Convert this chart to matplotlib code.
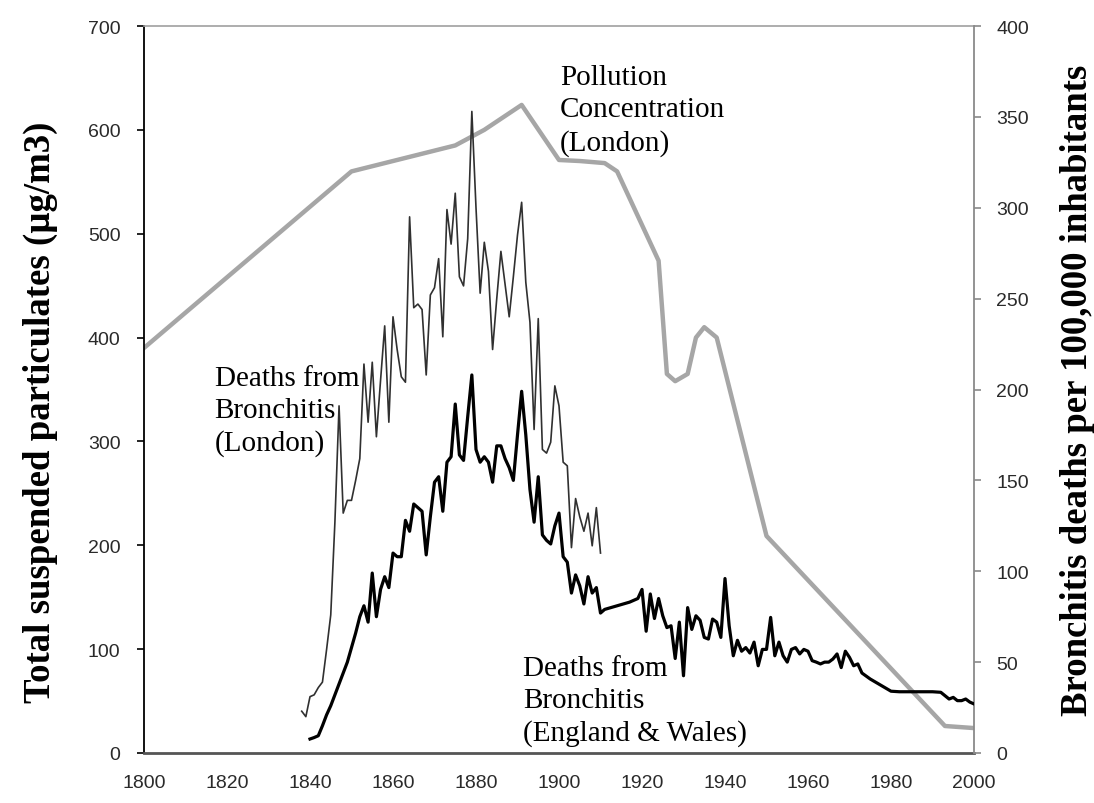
import matplotlib
matplotlib.use("Agg")
import matplotlib.pyplot as plt
from matplotlib.ticker import MultipleLocator

# ---------------- data ----------------
poll_years = [1800, 1850, 1875, 1882, 1891, 1900, 1905, 1911, 1914, 1924, 1926,
              1928, 1931, 1933, 1935, 1938, 1950, 1993, 2000]
poll_values = [390, 560, 585, 600, 624, 571, 570, 568, 560, 474, 365,
               358, 365, 400, 410, 400, 209, 26, 24]

london_years = list(range(1838, 1911))
london_values = [23, 20, 31, 32, 36, 39, 57, 76, 127, 191,
                 132, 139, 139, 150, 162, 214, 182, 215, 174, 205,
                 235, 182, 240, 222, 207, 204, 295, 245, 247, 244,
                 208, 252, 256, 272, 229, 299, 280, 308, 262, 257,
                 283, 353, 300, 253, 281, 265, 222, 250, 276, 258,
                 240, 262, 285, 303, 259, 237, 178, 239, 167, 165,
                 171, 202, 191, 160, 158, 113, 140, 130, 122, 132,
                 114, 135, 110]

ew_years = list(range(1840, 1911)) + [1911, 1914, 1917] + list(range(1919, 1974)) + \
    [1975, 1977, 1980, 1982, 1990, 1992, 1994, 1995, 1996, 1997, 1998, 1999, 2000]
ew_values = [7.7, 8.5, 9.5, 15, 21, 26, 32, 38, 44, 50,
             58, 66, 75, 81, 72, 99, 75, 90, 97, 91,
             110, 108, 108, 128, 122, 137, 135, 133, 109, 130,
             149, 152, 133, 160, 163, 192, 164, 161, 185, 208,
             167, 160, 163, 160, 149, 169, 169, 162, 157, 150,
             175, 199, 175, 145, 127, 152, 120, 117, 115, 125,
             132, 108, 105, 88, 98, 92, 82, 97, 88, 91,
             77,
             79, 81, 83,
             85, 90, 67, 87.5, 74, 85, 75.5, 69, 70, 52,
             72, 42.5, 80, 68, 75.5, 73, 63.6, 62.7, 73.7, 72,
             63.6, 96, 70, 53.5, 62, 56, 58, 55, 61, 48,
             57, 57, 74.6, 53.5, 61, 53.5, 50, 57, 58, 54.5,
             57, 56, 50.8, 50, 49, 50, 50, 51.7, 54.5, 47,
             56, 52.6, 48, 49, 44,
             40.7, 38, 34, 33.7, 33.7, 33.4, 29.7, 30.6, 28.8, 28.8, 29.7, 28, 27]

x_ticks = list(range(1800, 2001, 20))

# ---------------- figure ----------------
tick_font = ['Liberation Sans', 'DejaVu Sans']
serif = ['Liberation Serif', 'DejaVu Serif']

fig = plt.figure(figsize=(10.94, 8.04), dpi=100)
ax = fig.add_axes([144 / 1094, 1 - 754 / 804, (974 - 144) / 1094, (754 - 27) / 804])
ax2 = ax.twinx()

ax.plot(poll_years, poll_values, color='#a6a6a6', lw=3.2, solid_joinstyle='round', zorder=2)
ax2.plot(london_years, london_values, color='#303030', lw=1.2, zorder=3)
ax2.plot(ew_years, ew_values, color='#000000', lw=2.3, zorder=4)

ax.set_xlim(1800, 2000)
ax.set_ylim(0, 700)
ax2.set_ylim(0, 400)
ax.set_xticks(x_ticks)
ax.yaxis.set_major_locator(MultipleLocator(100))
ax2.yaxis.set_major_locator(MultipleLocator(50))

for a in (ax, ax2):
    a.set_facecolor('none')
    for s in a.spines.values():
        s.set_visible(False)

ax.spines['left'].set_visible(True)
ax.spines['left'].set_color('#000000')
ax.spines['left'].set_linewidth(1.3)
ax.spines['bottom'].set_visible(True)
ax.spines['bottom'].set_color('#555555')
ax.spines['bottom'].set_linewidth(2.0)
ax.spines['top'].set_visible(True)
ax.spines['top'].set_color('#a0a0a0')
ax.spines['top'].set_linewidth(1.2)
ax2.spines['right'].set_visible(True)
ax2.spines['right'].set_color('#8a8a8a')
ax2.spines['right'].set_linewidth(1.3)

ax.tick_params(axis='x', length=0, pad=15, labelsize=14, labelcolor='#2a2a2a')
ax.tick_params(axis='y', direction='out', length=5, width=1.2, color='#000000',
               pad=12, labelsize=14, labelcolor='#2a2a2a')
ax2.tick_params(axis='y', direction='out', length=5, width=1.2, color='#8a8a8a',
                pad=11, labelsize=14, labelcolor='#2a2a2a')
for lab in ax.get_xticklabels() + ax.get_yticklabels() + ax2.get_yticklabels():
    lab.set_family(tick_font)

ax.set_ylabel('Total suspended particulates (µg/m3)', family=serif, fontweight='bold',
              fontsize=26.5)
ax2.set_ylabel('Bronchitis deaths per 100,000 inhabitants', family=serif, fontweight='bold',
               fontsize=26.5, rotation=90)
ax.yaxis.set_label_coords(-0.1036, 0.47)
ax2.yaxis.set_label_coords(1.1036, 0.5)

txt_kw = dict(family=serif, fontsize=21, color='#000000', va='top', ha='left',
              linespacing=1.3)
ax.text(1900.3, 663, 'Pollution\nConcentration\n(London)', **txt_kw)
ax.text(1817.0, 374, 'Deaths from\nBronchitis\n(London)', **txt_kw)
ax.text(1891.3, 94, 'Deaths from\nBronchitis\n(England & Wales)', **txt_kw)

fig.savefig('out.png', dpi=100)
